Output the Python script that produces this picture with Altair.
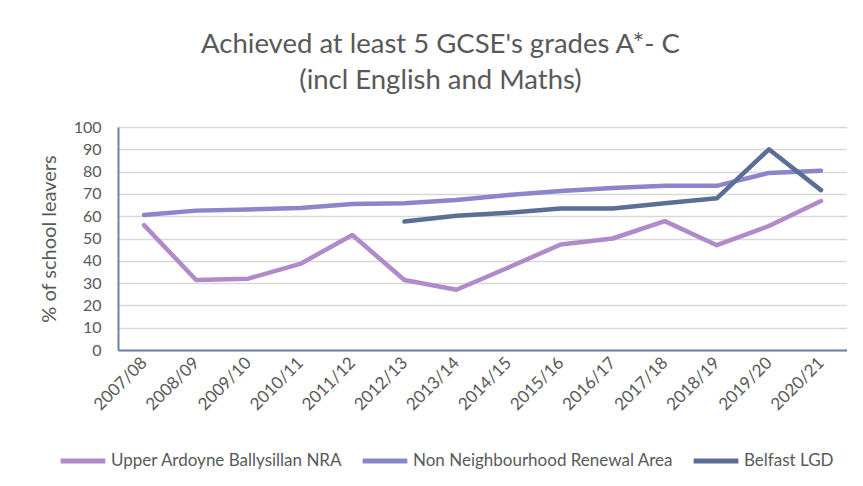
import altair as alt
import pandas as pd

years = ["2007/08", "2008/09", "2009/10", "2010/11", "2011/12", "2012/13", "2013/14",
         "2014/15", "2015/16", "2016/17", "2017/18", "2018/19", "2019/20", "2020/21"]
upper_ardoyne = [56.0, 31.4, 32.0, 38.6, 51.6, 31.4, 27.0, 37.0, 47.3, 50.0, 57.8, 47.0, 55.6, 66.8]
non_nra = [60.5, 62.5, 63.0, 63.7, 65.5, 65.8, 67.3, 69.5, 71.3, 72.6, 73.6, 73.6, 79.4, 80.4]
belfast = [None, None, None, None, None, 57.6, 60.2, 61.6, 63.5, 63.5, 65.8, 68.0, 90.0, 71.7]

series_names = ["Upper Ardoyne Ballysillan NRA", "Non Neighbourhood Renewal Area", "Belfast LGD"]
series_colors = ["#B18AC9", "#8B86CA", "#5A6E96"]

rows = []
for name, vals in zip(series_names, [upper_ardoyne, non_nra, belfast]):
    for i, (y, v) in enumerate(zip(years, vals)):
        if v is not None:
            rows.append({"year": y, "value": v, "series": name, "order": i})
df = pd.DataFrame(rows)

FONT = "Lato"
GREY = "#595959"

chart = alt.Chart(df).mark_line(strokeWidth=4.5, strokeCap="round", strokeJoin="round").encode(
    x=alt.X("year:O", sort=years,
            scale=alt.Scale(type="point", padding=0.5),
            axis=alt.Axis(title=None, labelAngle=-45, labelAlign="right", labelBaseline="middle",
                          labelPadding=10, ticks=False, domainColor="#6A7FAA", domainWidth=2,
                          labelFontSize=17, labelColor=GREY, labelFont=FONT, grid=False)),
    y=alt.Y("value:Q", scale=alt.Scale(domain=[0, 100], nice=False),
            axis=alt.Axis(title="% of school leavers", values=list(range(0, 101, 10)),
                          ticks=False, labelPadding=17, labelFontSize=16, labelColor=GREY,
                          labelFont=FONT, titleFont=FONT, titleFontSize=20, titleColor=GREY,
                          titleFontWeight="normal", titlePadding=14,
                          domainColor="#6A7FAA", domainWidth=2,
                          gridColor="#D9D9D9", gridWidth=1.5)),
    color=alt.Color("series:N", sort=series_names,
                    scale=alt.Scale(domain=series_names, range=series_colors),
                    legend=alt.Legend(title=None, orient="none", direction="horizontal",
                                      legendX=-60, legendY=309,
                                      symbolType="stroke", symbolSize=2000, symbolStrokeWidth=5,
                                      labelFont=FONT, labelFontSize=17, labelColor=GREY,
                                      labelOffset=3, columnPadding=9, labelLimit=400)),
    order="order:Q",
).properties(
    width=729, height=223,
    padding={"left": 110, "top": 119, "right": 0, "bottom": 128},
    autosize=alt.AutoSizeParams(type="none"),
    title=alt.TitleParams(["Achieved at least 5 GCSE's grades A*- C", "(incl English and Maths)"],
                          font=FONT, fontSize=27.5, fontWeight="normal", color=GREY,
                          lineHeight=36, anchor="middle", dx=-42, offset=25),
).configure_view(stroke=None)

chart.save("out.html", embed_options={"renderer": "svg", "actions": False})
